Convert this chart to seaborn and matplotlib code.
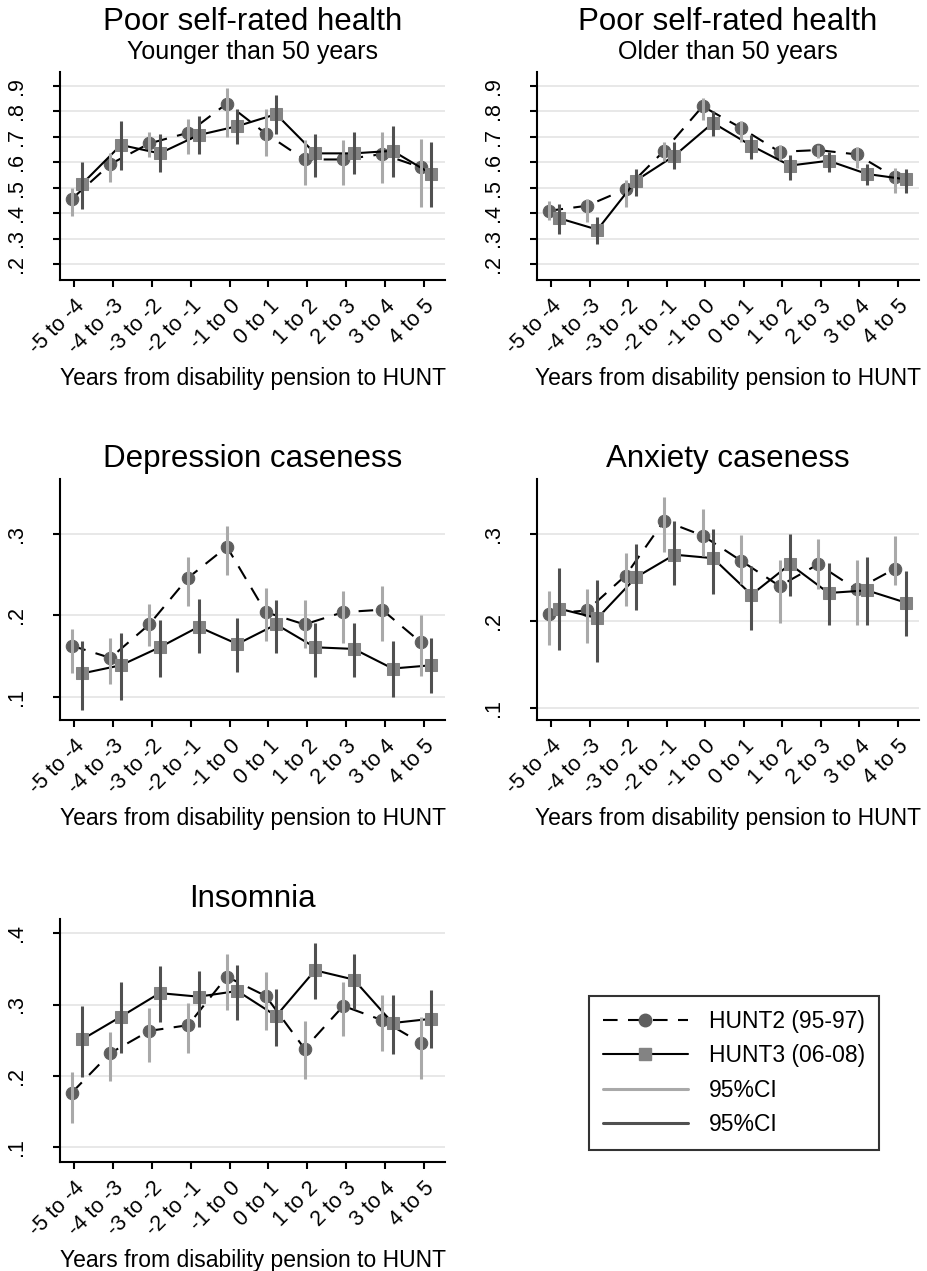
import numpy as np
import pandas as pd
import matplotlib
matplotlib.use("Agg")
import matplotlib.pyplot as plt
from matplotlib.lines import Line2D
import seaborn as sns

sns.set_theme(style="white")
plt.rcParams['font.family'] = ['Liberation Sans', 'DejaVu Sans']
plt.rcParams['text.color'] = 'black'
plt.rcParams['axes.labelcolor'] = 'black'
plt.rcParams['xtick.color'] = 'black'
plt.rcParams['ytick.color'] = 'black'

# ---------------- data ----------------
categories = ["-5 to -4", "-4 to -3", "-3 to -2", "-2 to -1", "-1 to 0",
              "0 to 1", "1 to 2", "2 to 3", "3 to 4", "4 to 5"]

# Poor self-rated health, younger than 50
srh_young_h2 = [0.455, 0.593, 0.674, 0.716, 0.831, 0.713, 0.611, 0.611, 0.632, 0.580]
srh_young_h2_lo = [0.390, 0.524, 0.620, 0.632, 0.700, 0.624, 0.510, 0.510, 0.520, 0.426]
srh_young_h2_hi = [0.500, 0.635, 0.720, 0.772, 0.893, 0.811, 0.687, 0.687, 0.720, 0.690]
srh_young_h3 = [0.515, 0.668, 0.635, 0.707, 0.742, 0.789, 0.635, 0.635, 0.645, 0.554]
srh_young_h3_lo = [0.417, 0.570, 0.560, 0.631, 0.671, 0.710, 0.541, 0.553, 0.541, 0.426]
srh_young_h3_hi = [0.600, 0.762, 0.711, 0.783, 0.811, 0.863, 0.711, 0.720, 0.742, 0.680]

# Poor self-rated health, older than 50
srh_old_h2 = [0.409, 0.429, 0.494, 0.645, 0.820, 0.735, 0.641, 0.648, 0.631, 0.541]
srh_old_h2_lo = [0.374, 0.367, 0.426, 0.606, 0.765, 0.680, 0.609, 0.615, 0.576, 0.480]
srh_old_h2_hi = [0.448, 0.455, 0.530, 0.680, 0.854, 0.763, 0.668, 0.668, 0.660, 0.576]
srh_old_h3 = [0.380, 0.335, 0.528, 0.626, 0.755, 0.665, 0.587, 0.606, 0.554, 0.533]
srh_old_h3_lo = [0.319, 0.278, 0.469, 0.572, 0.703, 0.613, 0.530, 0.560, 0.511, 0.481]
srh_old_h3_hi = [0.436, 0.384, 0.572, 0.680, 0.800, 0.707, 0.628, 0.641, 0.593, 0.572]

# Depression caseness
dep_h2 = [0.163, 0.148, 0.189, 0.246, 0.284, 0.204, 0.189, 0.204, 0.207, 0.167]
dep_h2_lo = [0.130, 0.116, 0.163, 0.211, 0.249, 0.169, 0.160, 0.166, 0.169, 0.126]
dep_h2_hi = [0.184, 0.172, 0.214, 0.271, 0.309, 0.233, 0.219, 0.230, 0.236, 0.200]
dep_h3 = [0.129, 0.139, 0.161, 0.186, 0.165, 0.189, 0.161, 0.159, 0.135, 0.139]
dep_h3_lo = [0.084, 0.096, 0.125, 0.154, 0.131, 0.154, 0.125, 0.125, 0.100, 0.105]
dep_h3_hi = [0.169, 0.178, 0.194, 0.220, 0.197, 0.219, 0.191, 0.191, 0.169, 0.172]

# Anxiety caseness
anx_h2 = [0.208, 0.212, 0.252, 0.315, 0.298, 0.269, 0.240, 0.265, 0.236, 0.260]
anx_h2_lo = [0.172, 0.175, 0.217, 0.279, 0.275, 0.242, 0.198, 0.236, 0.195, 0.241]
anx_h2_hi = [0.234, 0.237, 0.278, 0.342, 0.329, 0.299, 0.270, 0.294, 0.270, 0.297]
anx_h3 = [0.214, 0.203, 0.250, 0.276, 0.272, 0.230, 0.265, 0.232, 0.235, 0.221]
anx_h3_lo = [0.166, 0.153, 0.213, 0.241, 0.231, 0.189, 0.228, 0.195, 0.195, 0.183]
anx_h3_hi = [0.261, 0.247, 0.288, 0.315, 0.306, 0.263, 0.300, 0.267, 0.273, 0.257]

# Insomnia
ins_h2 = [0.176, 0.232, 0.263, 0.271, 0.339, 0.312, 0.238, 0.298, 0.278, 0.246]
ins_h2_lo = [0.134, 0.192, 0.220, 0.232, 0.293, 0.264, 0.195, 0.256, 0.235, 0.195]
ins_h2_hi = [0.205, 0.262, 0.295, 0.302, 0.371, 0.346, 0.277, 0.331, 0.313, 0.283]
ins_h3 = [0.251, 0.283, 0.316, 0.311, 0.319, 0.284, 0.348, 0.335, 0.274, 0.280]
ins_h3_lo = [0.198, 0.232, 0.275, 0.268, 0.278, 0.242, 0.308, 0.294, 0.231, 0.239]
ins_h3_hi = [0.298, 0.332, 0.354, 0.347, 0.356, 0.322, 0.386, 0.371, 0.314, 0.321]

legend_labels = ["HUNT2 (95-97)", "HUNT3 (06-08)", "95%CI", "95%CI"]

# ---------------- style ----------------
C_H2 = '#5e5e5e'
C_H3 = '#838383'
C_CI2 = '#a9a9a9'
C_CI3 = '#505050'
DASH = (0, (7.0, 5.0))
XOFF2, XOFF3 = -0.07, 0.20

W, H = 927, 1271
fig = plt.figure(figsize=(W / 100, H / 100), dpi=100)


def axes_px(left, right, top, bottom):
    return fig.add_axes([left / W, 1 - bottom / H, (right - left) / W, (bottom - top) / H])


panels = [
    dict(box=(60, 445, 72, 280), title="Poor self-rated health", sub="Younger than 50 years",
         h2=(srh_young_h2, srh_young_h2_lo, srh_young_h2_hi),
         h3=(srh_young_h3, srh_young_h3_lo, srh_young_h3_hi),
         ylim=(0.137, 0.955), yticks=[0.2, 0.3, 0.4, 0.5, 0.6, 0.7, 0.8, 0.9]),
    dict(box=(537, 919, 72, 280), title="Poor self-rated health", sub="Older than 50 years",
         h2=(srh_old_h2, srh_old_h2_lo, srh_old_h2_hi),
         h3=(srh_old_h3, srh_old_h3_lo, srh_old_h3_hi),
         ylim=(0.137, 0.955), yticks=[0.2, 0.3, 0.4, 0.5, 0.6, 0.7, 0.8, 0.9]),
    dict(box=(60, 445, 479, 720), title="Depression caseness", sub=None,
         h2=(dep_h2, dep_h2_lo, dep_h2_hi), h3=(dep_h3, dep_h3_lo, dep_h3_hi),
         ylim=(0.072, 0.367), yticks=[0.1, 0.2, 0.3]),
    dict(box=(537, 919, 479, 720), title="Anxiety caseness", sub=None,
         h2=(anx_h2, anx_h2_lo, anx_h2_hi), h3=(anx_h3, anx_h3_lo, anx_h3_hi),
         ylim=(0.086, 0.363), yticks=[0.1, 0.2, 0.3]),
    dict(box=(60, 445, 919, 1162), title="Insomnia", sub=None,
         h2=(ins_h2, ins_h2_lo, ins_h2_hi), h3=(ins_h3, ins_h3_lo, ins_h3_hi),
         ylim=(0.079, 0.420), yticks=[0.1, 0.2, 0.3, 0.4]),
]

xpos = np.arange(len(categories))

for p in panels:
    ax = axes_px(*p['box'])
    m2, lo2, hi2 = p['h2']
    m3, lo3, hi3 = p['h3']
    df2 = pd.DataFrame({'x': xpos + XOFF2, 'y': m2})
    df3 = pd.DataFrame({'x': xpos + XOFF3, 'y': m3})

    for y in p['yticks']:
        ax.axhline(y, color='#e6e6e6', lw=1.3, zorder=0)

    sns.lineplot(data=df2, x='x', y='y', ax=ax, color='black', lw=1.5, linestyle=DASH,
                 marker='o', markersize=9, markerfacecolor=C_H2, markeredgecolor=C_H2,
                 errorbar=None, zorder=3)
    sns.lineplot(data=df3, x='x', y='y', ax=ax, color='black', lw=1.5, linestyle='-',
                 marker='s', markersize=9, markerfacecolor=C_H3, markeredgecolor=C_H3,
                 errorbar=None, zorder=3)
    ax.vlines(xpos + XOFF2, lo2, hi2, color=C_CI2, lw=2.2, zorder=4)
    ax.vlines(xpos + XOFF3, lo3, hi3, color=C_CI3, lw=2.2, zorder=4)

    ax.set_xlim(-0.37, 9.55)
    ax.set_ylim(*p['ylim'])
    ax.set_yticks(p['yticks'])
    ax.set_yticklabels([("%.1f" % v)[1:] for v in p['yticks']], rotation=90, va='center',
                       fontsize=15.5)
    ax.set_xticks(xpos)
    ax.set_xticklabels(categories, rotation=45, ha='right', va='top',
                       rotation_mode='anchor', fontsize=15.5)
    ax.set_xlabel("Years from disability pension to HUNT", fontsize=16.5, labelpad=6)
    ax.set_ylabel("")
    ax.grid(False)
    for s in ['top', 'right']:
        ax.spines[s].set_visible(False)
    for s in ['left', 'bottom']:
        ax.spines[s].set_color('black')
        ax.spines[s].set_linewidth(1.5)
    ax.tick_params(axis='both', which='major', direction='out', length=5, width=1.5,
                   color='black', labelcolor='black', left=True, bottom=True)
    ax.tick_params(axis='y', pad=19)
    ax.tick_params(axis='x', pad=6)

    ah = p['box'][3] - p['box'][2]
    if p['sub']:
        ax.text(0.5, 1 + 50 / ah, p['title'], transform=ax.transAxes, ha='center',
                va='center', fontsize=22.5, color='black')
        ax.text(0.5, 1 + 20 / ah, p['sub'], transform=ax.transAxes, ha='center',
                va='center', fontsize=18, color='black')
    else:
        ax.text(0.5, 1 + 20 / ah, p['title'], transform=ax.transAxes, ha='center',
                va='center', fontsize=22.5, color='black')

handles = [
    Line2D([], [], color='black', lw=1.5, linestyle=DASH, marker='o', markersize=9,
           markerfacecolor=C_H2, markeredgecolor=C_H2),
    Line2D([], [], color='black', lw=1.5, marker='s', markersize=9,
           markerfacecolor=C_H3, markeredgecolor=C_H3),
    Line2D([], [], color=C_CI2, lw=2.2),
    Line2D([], [], color=C_CI3, lw=2.2),
]
leg = fig.legend(handles, legend_labels, loc='upper left',
                 bbox_to_anchor=(589 / W, 1 - 996 / H), bbox_transform=fig.transFigure,
                 fontsize=16.5, frameon=True, fancybox=False, handlelength=3.7,
                 handletextpad=0.95, labelspacing=0.5, borderpad=0.6, borderaxespad=0)
leg.get_frame().set_edgecolor('black')
leg.get_frame().set_linewidth(1.5)
for t in leg.get_texts():
    t.set_color('black')

fig.savefig("out.png", dpi=100, facecolor='white')
